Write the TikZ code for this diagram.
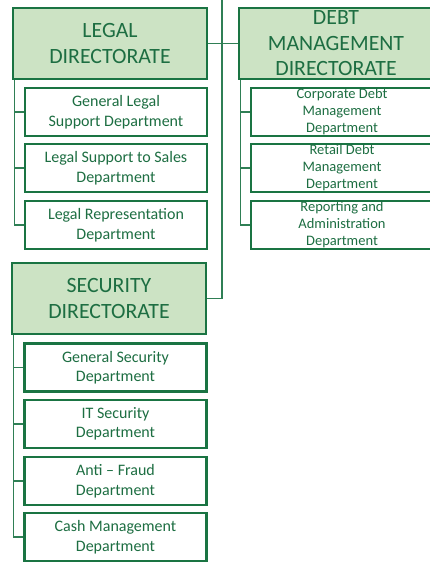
\documentclass[tikz,border=0pt]{standalone}
\usepackage{fontspec}
\setmainfont{Carlito}
\definecolor{bord}{HTML}{1A7443}
\definecolor{dfill}{HTML}{CCE3C4}
\definecolor{tgreen}{HTML}{1D6E42}
\definecolor{lgreen}{HTML}{2F7F55}
\tikzset{
  dirbox/.style={draw=bord, fill=dfill, line width=2.6pt, text=tgreen,
    font=\fontsize{21.8}{25.5}\selectfont, align=center,
    minimum width=194pt, minimum height=71pt, inner sep=0pt},
  subbox/.style={draw=bord, fill=white, line width=2.6pt, text=tgreen,
    font=\fontsize{16}{19.5}\selectfont, align=center,
    minimum width=182pt, minimum height=48pt, inner sep=0pt},
  smallsub/.style={subbox, font=\fontsize{14.5}{17}\selectfont},
  conn/.style={draw=lgreen, line width=1.5pt}
}
\begin{document}
\begin{tikzpicture}[x=1pt,y=-1pt]
\useasboundingbox (0,0) rectangle (430,564);
\coordinate (top) at (222,0);
% directorates
\node[dirbox] (ld) at (110,43.5) {LEGAL\\DIRECTORATE};
\node[dirbox] (dd) at (336,43.5) {DEBT\\MANAGEMENT\\DIRECTORATE};
\node[dirbox] (sd) at (109,298.5) {SECURITY\\DIRECTORATE};
% trunk
\draw[conn] (top) |- (sd.east);
\draw[conn] (ld.east) -- (dd.west);
% legal subs
\node[subbox] (ls1) at (116,112) {General Legal\\Support Department};
\node[subbox] (ls2) at (116,168) {Legal Support to Sales\\Department};
\node[subbox] (ls3) at (116,225) {Legal Representation\\Department};
\draw[conn] ([xshift=3pt]ld.south west) |- (ls3.west);
\draw[conn] ([xshift=3pt]ld.south west) |- (ls1.west);
\draw[conn] ([xshift=3pt]ld.south west) |- (ls2.west);
% debt subs
\node[smallsub] (ds1) at (342,112) {Corporate Debt\\Management\\Department};
\node[smallsub] (ds2) at (342,168) {Retail Debt\\Management\\Department};
\node[smallsub] (ds3) at (342,225) {Reporting and\\Administration\\Department};
\draw[conn] ([xshift=3pt]dd.south west) |- (ds3.west);
\draw[conn] ([xshift=3pt]dd.south west) |- (ds1.west);
\draw[conn] ([xshift=3pt]dd.south west) |- (ds2.west);
% security subs
\node[subbox] (ss1) at (115.5,367.5) {General Security\\Department};
\node[subbox] (ss2) at (115.5,424) {IT Security\\Department};
\node[subbox] (ss3) at (115.5,481) {Anti -- Fraud\\Department};
\node[subbox] (ss4) at (115.5,537) {Cash Management\\Department};
\draw[conn] ([xshift=3pt]sd.south west) |- (ss4.west);
\draw[conn] ([xshift=3pt]sd.south west) |- (ss1.west);
\draw[conn] ([xshift=3pt]sd.south west) |- (ss2.west);
\draw[conn] ([xshift=3pt]sd.south west) |- (ss3.west);
\end{tikzpicture}
\end{document}
